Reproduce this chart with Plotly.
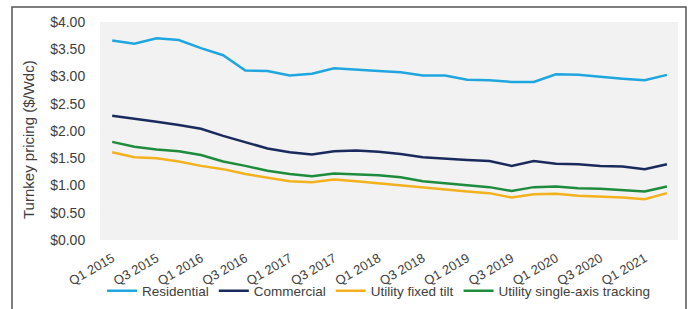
import plotly.graph_objects as go

quarters = [f"Q{q} {y}" for y in range(2015, 2022) for q in (1, 2, 3, 4)][:26]
tick_labels = [q for i, q in enumerate(quarters) if i % 2 == 0]

residential = [3.66, 3.60, 3.70, 3.67, 3.52, 3.39, 3.11, 3.10, 3.02, 3.05, 3.15, 3.12, 3.10,
               3.08, 3.02, 3.02, 2.94, 2.93, 2.90, 2.90, 3.04, 3.03, 2.99, 2.96, 2.93, 3.03]
commercial = [2.28, 2.23, 2.17, 2.11, 2.04, 1.91, 1.79, 1.68, 1.61, 1.57, 1.63, 1.64, 1.62,
              1.58, 1.52, 1.49, 1.47, 1.45, 1.36, 1.45, 1.40, 1.39, 1.36, 1.35, 1.30, 1.39]
fixed_tilt = [1.61, 1.52, 1.50, 1.44, 1.36, 1.30, 1.21, 1.14, 1.08, 1.06, 1.11, 1.08, 1.04,
              1.01, 0.96, 0.93, 0.89, 0.86, 0.78, 0.84, 0.85, 0.81, 0.80, 0.78, 0.75, 0.86]
tracking = [1.80, 1.71, 1.66, 1.63, 1.56, 1.44, 1.36, 1.27, 1.21, 1.17, 1.22, 1.21, 1.19,
            1.15, 1.08, 1.04, 1.00, 0.97, 0.90, 0.97, 0.98, 0.95, 0.94, 0.92, 0.89, 0.98]

series = [
    ("Residential", residential, "#1fa6df"),
    ("Commercial", commercial, "#1b2a5c"),
    ("Utility fixed tilt", fixed_tilt, "#f3b21d"),
    ("Utility single-axis tracking", tracking, "#1f8b3d"),
]

fig = go.Figure()
for name, vals, col in series:
    fig.add_trace(go.Scatter(x=quarters, y=vals, name=name, mode="lines",
                             line=dict(color=col, width=2.5)))

W, H = 689, 309
L, R, T, B = 100, 11, 22, 69
pw, ph = W - L - R, H - T - B

def px(x):
    return (x - L) / pw

def py(y):
    return (H - B - y) / ph

font = "Liberation Sans, Arial, sans-serif"
fig.update_layout(
    width=W, height=H,
    margin=dict(l=L, r=R, t=T, b=B, pad=0, autoexpand=False),
    paper_bgcolor="white",
    plot_bgcolor="#f2f2f2",
    font=dict(family=font, size=12, color="#404040"),
    showlegend=True,
    legend=dict(orientation="h", x=px(102), xanchor="left", y=py(291), yanchor="middle",
                font=dict(size=13.5, color="#404040"), bgcolor="rgba(0,0,0,0)",
                itemwidth=30, tracegroupgap=0),
    xaxis=dict(type="category", categoryorder="array", categoryarray=quarters,
               range=[-0.55, 25.5], tickmode="array", tickvals=tick_labels, ticktext=tick_labels,
               tickangle=-30, tickfont=dict(size=13, color="#404040"),
               showgrid=False, zeroline=False, showline=False, automargin=False,
               ticks="outside", ticklen=5, tickcolor="rgba(0,0,0,0)"),
    yaxis=dict(range=[0, 4], tickvals=[0, 0.5, 1, 1.5, 2, 2.5, 3, 3.5, 4],
               tickformat="$.2f", tickfont=dict(size=14, color="#404040"),
               showgrid=False, zeroline=False, showline=False, automargin=False,
               ticks="outside", ticklen=11, tickcolor="rgba(0,0,0,0)"),
)

fig.add_annotation(text="Turnkey pricing ($/Wdc)", xref="paper", yref="paper",
                   x=px(28), y=py(140), textangle=-90, showarrow=False,
                   font=dict(size=15, color="#404040"), xanchor="center", yanchor="middle")

fig.add_shape(type="rect", xref="paper", yref="paper",
              x0=px(12), x1=px(686), y0=py(320), y1=py(7),
              line=dict(color="#555555", width=1.5), fillcolor="rgba(0,0,0,0)", layer="below")

fig.write_html("out.html", config={"displayModeBar": False},
               post_script="document.body.style.margin='0';")
